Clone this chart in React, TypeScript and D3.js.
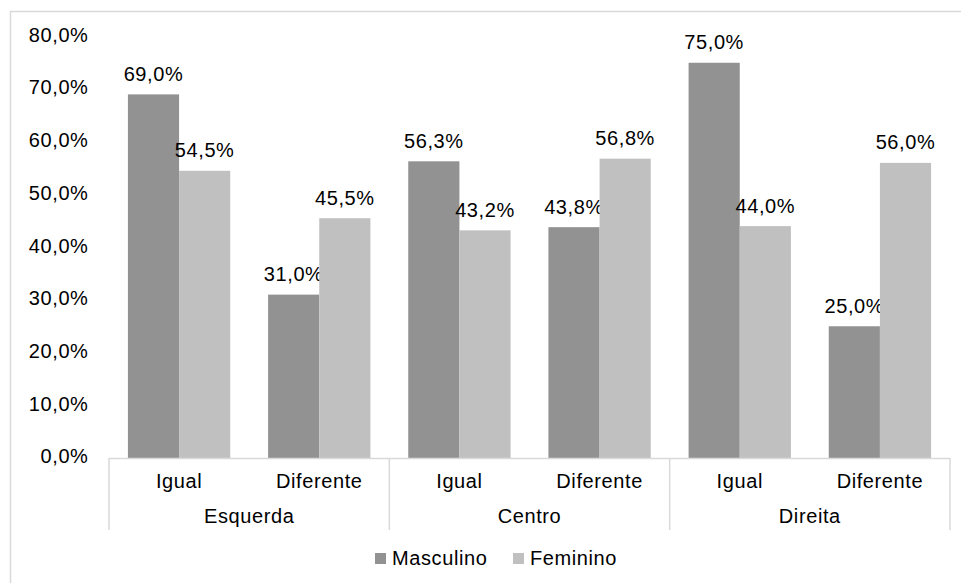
import React from "react";
import * as d3 from "d3";

const groups = ["Esquerda", "Centro", "Direita"];
const subcats = ["Igual", "Diferente"];
const seriesNames = ["Masculino", "Feminino"];
const masculino = [69.0, 31.0, 56.3, 43.8, 75.0, 25.0];
const feminino = [54.5, 45.5, 43.2, 56.8, 44.0, 56.0];
const yTicks = [0, 10, 20, 30, 40, 50, 60, 70, 80];
const colors = ["#929292", "#c0c0c0"];

const fmt = (v: number) => v.toFixed(1).replace(".", ",") + "%";

export default function App() {
  const W = 961, H = 583;
  const left = 109, right = 950, top = 36.4, bottom = 458;
  const cats = groups.flatMap((g) => subcats.map((s) => g + "|" + s));
  const x = d3.scaleBand().domain(cats).range([left, right]).paddingInner(0.27).paddingOuter(0.135);
  const step = (right - left) / cats.length;
  const y = d3.scaleLinear().domain([0, 80]).range([bottom, top]);
  const series = [masculino, feminino];
  const bw = x.bandwidth() / 2;
  const font = "'Liberation Sans', Arial, sans-serif";
  const fs = 20;
  const ls = 0.6;
  return (
    <svg width={W} height={H} style={{ position: "absolute", left: 0, top: 0 }} fontFamily={font} letterSpacing={ls}>
      <rect x={0} y={0} width={W} height={H} fill="#fff" />
      <path d={`M10.5,${H} V11.5 H${W}`} fill="none" stroke="#d9d9d9" strokeWidth={1.5} />
      {yTicks.map((t) => (
        <text key={t} x={88.5} y={y(t) + 5.3} textAnchor="end" fontSize={fs} fill="#000">
          {fmt(t)}
        </text>
      ))}
      {series.map((vals, si) =>
        vals.map((v, i) => {
          const bx = (x(cats[i]) as number) + si * bw;
          return (
            <g key={si + "-" + i}>
              <rect x={bx} y={y(v)} width={bw} height={bottom - y(v)} fill={colors[si]} />
              <text x={bx + bw / 2} y={y(v) - 13.5} textAnchor="middle" fontSize={fs} fill="#000">
                {fmt(v)}
              </text>
            </g>
          );
        })
      )}
      <line x1={left} x2={right} y1={bottom + 0.5} y2={bottom + 0.5} stroke="#d9d9d9" strokeWidth={1.5} />
      {[0, 1, 2, 3].map((k) => (
        <line key={k} x1={left + k * step * 2} x2={left + k * step * 2} y1={bottom} y2={530} stroke="#d9d9d9" strokeWidth={1.5} />
      ))}
      {cats.map((c, i) => (
        <text key={c} x={left + step * (i + 0.5)} y={487.7} textAnchor="middle" fontSize={fs} fill="#000">
          {subcats[i % 2]}
        </text>
      ))}
      {groups.map((g, gi) => (
        <text key={g} x={left + step * (gi * 2 + 1)} y={523} textAnchor="middle" fontSize={fs} fill="#000">
          {g}
        </text>
      ))}
      {seriesNames.map((n, i) => {
        const lx = [375, 513][i];
        return (
          <g key={n}>
            <rect x={lx} y={553} width={11} height={11} fill={colors[i]} />
            <text x={lx + 17} y={565} fontSize={fs} fill="#000">
              {n}
            </text>
          </g>
        );
      })}
    </svg>
  );
}
